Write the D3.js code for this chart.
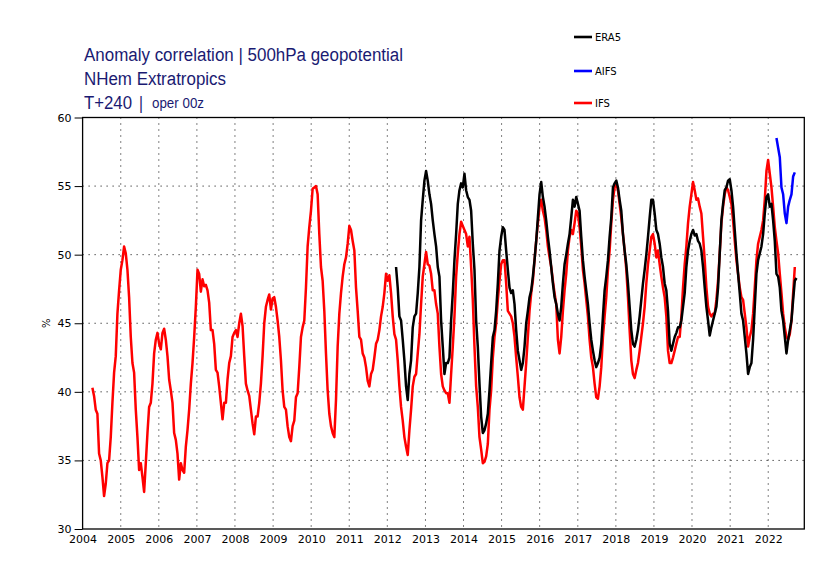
<!DOCTYPE html>
<html>
<head>
<meta charset="utf-8">
<style>
  body { margin: 0; background: #fff; }
  .title { fill: #1a1a72; font-family: "Liberation Sans", Arial, sans-serif; }
  .tick text { font-family: "DejaVu Sans", sans-serif; font-size: 11px; fill: #000; }
  .legend text { font-family: "DejaVu Sans", sans-serif; font-size: 10px; fill: #000; }
</style>
</head>
<body>
<script src="https://d3js.org/d3.v7.min.js"></script>
<script>
// samples on a 16-day grid starting 2004-04-04
var startDate = new Date(2004, 3, 4);
var stepDays = 16;

var ifsValues = [
  40.3, 39.7, 38.7, 38.4, 35.5, 35.0, 33.8, 32.4, 33.3, 34.8, 35.0, 36.7, 39.2, 41.4, 42.6, 45.7, 47.4, 48.9, 49.6, 50.6,
  50.1, 48.9, 46.9, 44.0, 42.1, 41.4, 38.7, 36.7, 34.3, 34.8, 33.8, 32.7, 34.8, 37.0, 38.9, 39.2, 40.6, 42.8, 43.8, 44.3,
  43.5, 43.1, 44.3, 44.6, 43.8, 42.6, 40.9, 40.1, 39.2, 37.0, 36.5, 35.5, 33.6, 34.8, 34.3, 34.1, 36.0, 37.2, 38.7, 40.6,
  42.1, 44.0, 46.2, 48.9, 48.6, 47.3, 48.2, 47.7, 47.8, 47.4, 46.5, 44.5, 44.5, 43.5, 41.6, 41.4, 40.4, 39.2, 38.0, 39.2,
  39.2, 40.9, 42.1, 42.6, 44.0, 44.3, 44.5, 44.0, 45.0, 45.7, 44.8, 42.6, 40.6, 40.1, 39.7, 38.7, 37.7, 36.9, 38.2, 38.2,
  39.2, 40.6, 42.6, 45.0, 46.2, 46.7, 47.1, 46.0, 46.8, 46.9, 46.2, 45.2, 44.0,
  42.3, 40.1, 38.9, 38.7, 37.5, 36.7, 36.4, 37.5, 37.9, 39.6, 39.9, 41.8, 44.0, 44.7, 45.2, 47.6, 50.6, 52.0, 53.2, 54.8,
  54.9, 55.0, 54.4, 51.5, 49.1, 48.1, 45.9, 42.8, 40.1, 38.4, 37.5, 37.0, 36.7, 39.4, 43.3, 45.7, 47.2, 48.4, 49.3, 49.8,
  50.8, 52.1, 51.8, 51.0, 50.3, 47.6, 45.9, 44.0, 43.8, 42.8, 42.5, 41.8, 40.8, 40.4, 41.3, 41.6, 42.5, 43.5, 43.8, 44.5,
  45.5, 46.2, 47.2, 48.6, 48.1, 48.5, 47.2, 45.5, 44.2, 43.8, 42.3, 40.4, 38.9, 37.9, 36.7, 36.0, 35.4, 37.2, 38.7, 40.4,
  41.1, 41.3, 42.8, 44.2, 46.4, 48.4, 49.3, 50.2, 49.3, 49.2, 48.6, 47.4, 47.4, 46.4, 45.7, 43.3, 41.3, 40.4, 40.1, 39.9,
  39.9, 39.2, 41.3, 43.3, 45.5, 48.4, 50.1, 51.5, 52.4, 52.1, 51.8, 51.5, 50.6, 51.3, 49.1, 46.7, 43.3, 40.4, 38.9,
  36.7, 35.8, 34.8, 34.9, 35.3, 36.2, 38.7, 40.1, 42.5, 44.0, 45.0, 46.7, 48.1, 49.3, 49.6, 49.6, 47.9, 45.9, 45.7, 45.5,
  45.0, 44.0, 42.5, 41.1, 39.6, 38.9, 38.7, 40.4, 42.1, 44.0, 45.9, 47.2, 48.1, 49.6, 51.0, 52.3, 53.5, 54.0, 53.2, 52.7,
  51.8, 50.6, 49.8, 49.1, 48.1, 47.2, 46.4, 43.8, 42.8, 44.0, 45.9, 47.4, 48.6, 50.3, 51.3, 51.8, 51.5, 52.3, 53.2, 53.0,
  52.0, 50.6, 48.9, 47.9, 46.7, 45.5, 43.8, 42.5, 41.8, 40.6, 39.6, 39.5, 40.4, 41.8, 44.0, 45.5, 46.9, 48.9, 50.3, 52.3,
  54.0, 54.9, 55.2, 54.7, 53.7, 52.7, 51.5, 50.3, 48.9, 46.9, 44.5, 42.3, 41.3, 41.0, 41.6, 42.1, 43.0, 44.0, 45.0, 46.2,
  47.9, 49.3, 50.3, 51.3, 51.5, 50.8, 49.8, 50.3, 49.3, 48.4, 47.6, 46.9, 45.5, 43.0, 42.1, 42.1, 42.5, 43.0, 43.5, 44.0,
  44.0, 45.5, 47.6, 49.3, 50.6, 52.3, 53.5, 54.4, 55.3, 54.7, 54.0, 54.1, 53.5, 53.0, 51.3, 49.6, 47.6, 46.2, 45.7, 45.5,
  45.7, 45.7, 46.7, 48.1, 50.1, 52.3, 53.5, 54.4, 54.9, 54.7, 54.2, 53.7, 52.5, 51.0, 49.6, 48.6, 47.6, 46.9, 46.7, 45.7,
  44.7, 43.3, 44.0, 44.5, 45.7, 47.6, 49.6, 50.8, 51.3, 51.8, 52.5, 54.0, 56.1, 56.9, 55.9, 54.9, 53.5, 52.0, 51.0, 50.1,
  48.6, 47.2, 45.7, 44.7, 44.0, 43.8, 44.2, 45.2, 47.2, 49.1
];

// ERA5 begins at sample 182 of the same grid
var era5Offset = 182;
var era5Values = [
  49.1, 47.6, 45.5, 45.2, 43.8, 42.3, 40.4, 39.4, 41.3, 42.3, 44.7, 45.5, 45.7, 47.2, 49.1, 52.5, 54.0, 55.4, 56.1, 55.4,
  54.4, 53.7, 52.5, 51.5, 50.6, 49.1, 48.4, 45.2, 43.3, 41.3, 42.1, 42.1, 42.5, 45.2, 47.2, 49.6, 51.5, 53.7, 54.7, 55.2,
  54.9, 55.9, 54.7, 54.2, 54.0, 53.2, 50.8, 48.9, 45.2, 43.3,
  40.6, 38.2, 37.0, 37.2, 37.7, 38.4, 40.1, 42.1, 44.0, 44.5, 45.9, 47.9, 50.3, 51.3, 52.0, 51.8, 50.3, 48.9, 47.6, 47.2,
  47.4, 46.4, 44.5, 43.0, 42.3, 41.6, 42.1, 43.3, 45.0, 45.9, 46.9, 47.4, 48.4, 49.6, 51.0, 52.7, 54.4, 55.3, 54.2, 53.5,
  52.5, 51.3, 50.3, 49.1, 47.9, 46.9, 46.4, 45.7, 45.2, 46.2, 47.9, 49.3, 50.0, 50.8, 51.5, 52.7, 54.0, 53.5, 54.2, 53.7,
  53.2, 51.3, 49.6, 48.4, 47.4, 46.4, 45.0, 43.8, 43.0, 42.3, 41.8, 42.1, 42.5, 43.5, 45.5, 47.4, 48.4, 49.6, 51.3, 52.7,
  54.9, 55.2, 55.4, 54.9, 54.0, 53.2, 51.5, 50.3, 49.3, 47.9, 46.2, 44.5, 43.5, 43.3, 43.8, 44.5, 45.5, 46.7, 47.9, 48.9,
  50.0, 51.3, 52.7, 54.0, 54.0, 53.0, 51.8, 51.5, 50.8, 49.8, 49.1, 47.9, 47.4, 45.9, 43.5, 43.0, 43.5, 44.0, 44.3, 44.7,
  44.7, 45.2, 46.2, 47.2, 49.1, 50.3, 51.0, 51.5, 51.8, 51.4, 51.5, 51.0, 50.8, 50.3, 49.1, 47.6, 46.2, 45.2, 44.1, 44.7,
  45.2, 45.7, 46.2, 47.6, 50.1, 52.5, 53.7, 54.7, 54.9, 55.4, 55.5, 54.7, 53.5, 51.8, 50.1, 48.6, 47.2, 45.7, 45.2, 44.0,
  42.8, 41.3, 41.8, 42.1, 43.8, 46.2, 48.6, 49.6, 50.1, 50.6, 51.5, 53.0, 54.2, 54.4, 53.5, 53.7, 52.5, 51.0, 48.6, 48.4,
  47.6, 45.9, 45.2, 44.0, 42.8, 43.8, 44.5, 45.2, 46.7, 48.1, 48.3
];

// AIFS begins at sample 410
var aifsOffset = 410;
var aifsValues = [58.5, 57.8, 57.1, 54.9, 54.4, 53.0, 52.3, 53.5, 54.0, 54.4, 55.7, 56.0];

var yTicks = [30, 35, 40, 45, 50, 55, 60];
var xYears = d3.range(2004, 2023);

var seriesNames = ["ERA5", "AIFS", "IFS"];
var seriesColors = ["#000000", "#0000ff", "#ff0000"];

function toPoints(values, offset) {
  return values.map(function (v, i) {
    return { date: d3.timeDay.offset(startDate, (offset + i) * stepDays), value: v };
  });
}

var width = 830, height = 588;
var svg = d3.select("body").append("svg")
  .attr("width", width)
  .attr("height", height);

var x = d3.scaleTime()
  .domain([new Date(2004, 0, 1), new Date(2022, 11, 13)])
  .range([82.6, 804.3]);
var y = d3.scaleLinear()
  .domain([30, 60])
  .range([529, 117.5]);

// dotted grid
svg.append("g").selectAll("line.vg")
  .data(xYears.slice(1))
  .enter().append("line")
  .attr("x1", function (d) { return x(new Date(d, 0, 1)); })
  .attr("x2", function (d) { return x(new Date(d, 0, 1)); })
  .attr("y1", y(60)).attr("y2", y(30))
  .attr("stroke", "#000").attr("stroke-width", 1).attr("stroke-dasharray", "1,5");
svg.append("g").selectAll("line.hg")
  .data(yTicks.slice(1, -1))
  .enter().append("line")
  .attr("x1", x.range()[0]).attr("x2", x.range()[1])
  .attr("y1", function (d) { return y(d); })
  .attr("y2", function (d) { return y(d); })
  .attr("stroke", "#000").attr("stroke-width", 1).attr("stroke-dasharray", "1,5");

// series
var line = d3.line()
  .x(function (d) { return x(d.date); })
  .y(function (d) { return y(d.value); });

var series = [
  { pts: toPoints(ifsValues, 0), color: seriesColors[2] },
  { pts: toPoints(era5Values, era5Offset), color: seriesColors[0] },
  { pts: toPoints(aifsValues, aifsOffset), color: seriesColors[1] }
];
series.forEach(function (s) {
  svg.append("path")
    .datum(s.pts)
    .attr("d", line)
    .attr("fill", "none")
    .attr("stroke", s.color)
    .attr("stroke-width", 2.5)
    .attr("stroke-linejoin", "round");
});

// frame
svg.append("rect")
  .attr("x", x.range()[0]).attr("y", y(60))
  .attr("width", x.range()[1] - x.range()[0])
  .attr("height", y(30) - y(60))
  .attr("fill", "none").attr("stroke", "#000").attr("stroke-width", 1.3);

// axes
svg.append("g")
  .attr("transform", "translate(0," + y(30) + ")")
  .call(d3.axisBottom(x)
    .tickValues(xYears.map(function (d) { return new Date(d, 0, 1); }))
    .tickFormat(d3.timeFormat("%Y"))
    .tickSize(0).tickPadding(6))
  .call(function (g) { g.select(".domain").remove(); });

svg.append("g")
  .attr("transform", "translate(" + x.range()[0] + ",0)")
  .call(d3.axisLeft(y).tickValues(yTicks).tickSize(8).tickPadding(3))
  .call(function (g) { g.select(".domain").remove(); });

svg.append("text")
  .attr("transform", "translate(50," + y(45) + ") rotate(-90)")
  .attr("text-anchor", "middle")
  .style("font-family", "DejaVu Sans, sans-serif")
  .style("font-size", "10px")
  .text("%");

// titles (narrow face squeezed to the reference widths)
function title(txt, xPos, yPos, size, len) {
  svg.append("text").attr("class", "title")
    .attr("x", xPos).attr("y", yPos)
    .attr("textLength", len).attr("lengthAdjust", "spacingAndGlyphs")
    .style("font-size", size + "px")
    .text(txt);
}
title("Anomaly correlation | 500hPa geopotential", 84, 61, 18, 319);
title("NHem Extratropics", 84, 85, 18, 142);
title("T+240", 84, 109, 18, 48);
title("|", 139, 109, 18, 4);
title("oper 00z", 152, 108, 14, 52);

// legend
var legend = svg.append("g").attr("class", "legend");
var legendY = [37, 71, 103];
seriesNames.forEach(function (name, i) {
  legend.append("line")
    .attr("x1", 574).attr("x2", 592)
    .attr("y1", legendY[i]).attr("y2", legendY[i])
    .attr("stroke", seriesColors[i]).attr("stroke-width", 2.6);
  legend.append("text")
    .attr("x", 595).attr("y", legendY[i] + 3.5)
    .text(name);
});
</script>
</body>
</html>
